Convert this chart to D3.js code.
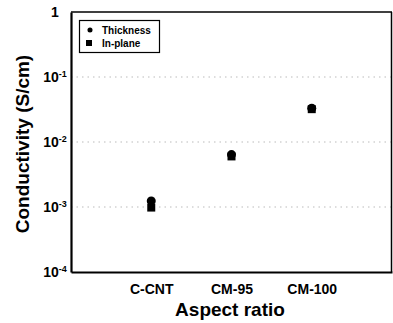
<!DOCTYPE html>
<html><head><meta charset="utf-8">
<script src="https://cdn.jsdelivr.net/npm/d3@7"></script>
<style>body{margin:0;background:#fff}</style>
</head><body>
<script>
const categories = ["C-CNT", "CM-95", "CM-100"];
const thickness = [1.24e-3, 6.4e-3, 0.033];
const inPlane = [0.98e-3, 6.0e-3, 0.032];
const yTicks = [1e-4, 1e-3, 1e-2, 1e-1, 1];
const yTickLabels = [["10","-4"],["10","-3"],["10","-2"],["10","-1"],["1",""]];

const W = 393, H = 323;
const m = {left: 71, right: 1, top: 12, bottom: 51};
const svg = d3.select("body").append("svg").attr("width", W).attr("height", H);
const font = "Arial, 'Liberation Sans', sans-serif";

const x = d3.scalePoint().domain(categories).range([m.left, W - m.right]).padding(1);
const y = d3.scaleLog().domain([1e-4, 1]).range([H - m.bottom, m.top]);

// grid
svg.append("g").selectAll("line").data(yTicks.slice(1, 4)).join("line")
  .attr("x1", m.left).attr("x2", W - m.right)
  .attr("y1", d => y(d)).attr("y2", d => y(d))
  .attr("stroke", "#bbb").attr("stroke-width", 1).attr("stroke-dasharray", "1.5,4");

// frame
svg.append("line").attr("x1", m.left).attr("x2", W - m.right).attr("y1", m.top).attr("y2", m.top)
  .attr("stroke", "#000").attr("stroke-width", 1.5);
svg.append("line").attr("x1", W - m.right - 0.5).attr("x2", W - m.right - 0.5).attr("y1", m.top).attr("y2", H - m.bottom)
  .attr("stroke", "#000").attr("stroke-width", 1.5);

// axes
const yAxis = d3.axisLeft(y).tickValues(yTicks).tickSize(0).tickFormat("");
const gy = svg.append("g").attr("transform", `translate(${m.left},0)`).call(yAxis);
gy.select(".domain").attr("stroke-width", 2.2);
const xAxis = d3.axisBottom(x).tickSize(0).tickPadding(10);
const gx = svg.append("g").attr("transform", `translate(0,${H - m.bottom})`).call(xAxis);
gx.select(".domain").attr("stroke-width", 2.2);
gx.selectAll("text").attr("font-family", font).attr("font-weight", "bold").attr("font-size", 14)
  .attr("dy", "0.85em").attr("fill", "#000");

// y tick labels
const tl = svg.append("g").selectAll("text").data(yTicks).join("text")
  .attr("x", 55).attr("y", d => y(d) + 5)
  .attr("text-anchor", "middle").attr("font-family", font).attr("font-weight", "bold")
  .attr("font-size", 14);
tl.each(function(d, i) {
  const t = d3.select(this);
  t.append("tspan").text(yTickLabels[i][0]);
  if (yTickLabels[i][1]) t.append("tspan").attr("font-size", 9).attr("dy", -5).text(yTickLabels[i][1]);
});

// axis titles
svg.append("text").attr("x", 230).attr("y", 316).attr("text-anchor", "middle")
  .attr("font-family", font).attr("font-weight", "bold").attr("font-size", 19).text("Aspect ratio");
svg.append("text").attr("transform", "translate(29,144) rotate(-90)").attr("text-anchor", "middle")
  .attr("font-family", font).attr("font-weight", "bold").attr("font-size", 19).text("Conductivity (S/cm)");

// data
const sq = 8;
svg.append("g").selectAll("rect").data(inPlane).join("rect")
  .attr("x", (d, i) => x(categories[i]) - sq / 2).attr("y", d => y(d) - sq / 2)
  .attr("width", sq).attr("height", sq).attr("fill", "#000");
svg.append("g").selectAll("circle").data(thickness).join("circle")
  .attr("cx", (d, i) => x(categories[i])).attr("cy", d => y(d)).attr("r", 4.5).attr("fill", "#000");

// legend
const lg = svg.append("g");
lg.append("rect").attr("x", 79.5).attr("y", 20.5).attr("width", 80).attr("height", 32)
  .attr("fill", "#fff").attr("stroke", "#000").attr("stroke-width", 1.2);
lg.append("path").attr("d", d3.symbol(d3.symbolCircle, 20)()).attr("transform", "translate(90,30)").attr("fill", "#000");
lg.append("rect").attr("x", 86).attr("y", 40).attr("width", 6).attr("height", 6).attr("fill", "#000");
lg.append("text").attr("x", 102).attr("y", 34).attr("font-family", font).attr("font-weight", "bold").attr("font-size", 10).text("Thickness");
lg.append("text").attr("x", 102).attr("y", 47).attr("font-family", font).attr("font-weight", "bold").attr("font-size", 10).text("In-plane");
</script>
</body></html>
